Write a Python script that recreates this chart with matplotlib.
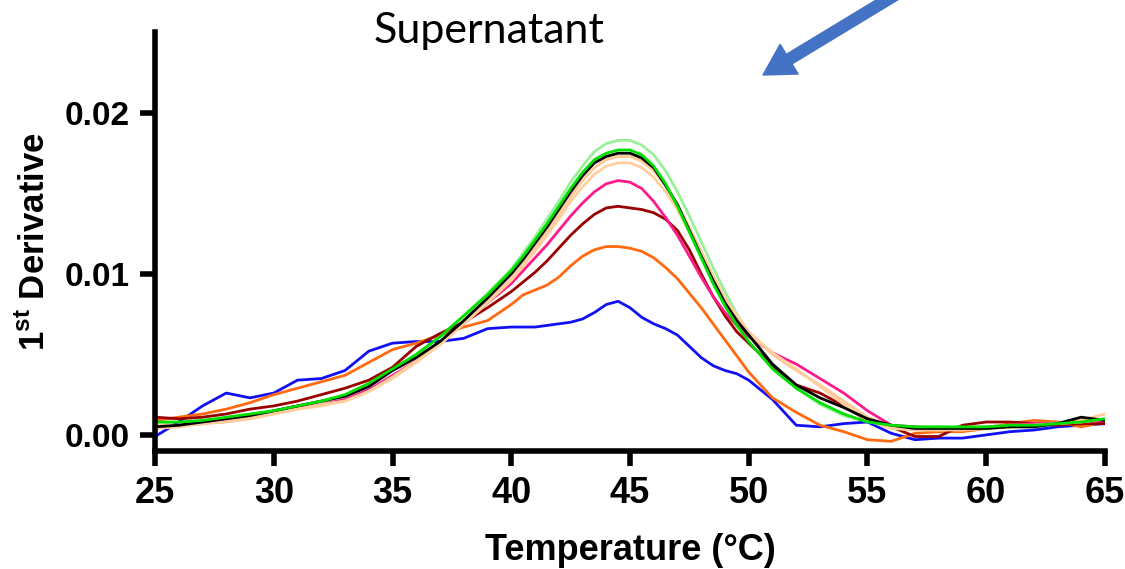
import matplotlib
matplotlib.use('Agg')
import matplotlib.pyplot as plt

# Temperature grid (deg C); finer sampling across the melt peak
temperature = [25, 26, 27, 28, 29, 30, 31, 32, 33, 34, 35, 36, 37, 38, 39, 40,
               40.5, 41, 41.5, 42, 42.5, 43, 43.5, 44, 44.5, 45, 45.5, 46, 46.5,
               47, 47.5, 48, 48.5, 49, 49.5, 50,
               51, 52, 53, 54, 55, 56, 57, 58, 59, 60, 61, 62, 63, 64, 65]

blue = [-0.0001, 0.0008, 0.0018, 0.0026, 0.0023, 0.0026, 0.0034, 0.0035, 0.0040, 0.0052,
        0.0057, 0.0058, 0.0058, 0.0060, 0.0066, 0.0067,
        0.0067, 0.0067, 0.0068, 0.0069, 0.0070, 0.0072, 0.0076, 0.0081, 0.0083, 0.0079,
        0.0073, 0.0069, 0.0066, 0.0062, 0.0055, 0.0048, 0.0043, 0.0040, 0.0038, 0.0034,
        0.0022, 0.0006, 0.0005, 0.0007, 0.0008, 0.0001, -0.0003, -0.0002, -0.0002, 0.0000,
        0.0002, 0.0003, 0.0005, 0.0006, 0.0007]

orange = [0.0009, 0.0011, 0.0013, 0.0016, 0.0020, 0.0025, 0.0029, 0.0033, 0.0037, 0.0045,
          0.0053, 0.0057, 0.0062, 0.0067, 0.0071, 0.0081,
          0.0087, 0.0090, 0.0093, 0.0098, 0.0105, 0.0111, 0.0115, 0.0117, 0.0117, 0.0116,
          0.0114, 0.0110, 0.0104, 0.0097, 0.0088, 0.0079, 0.0069, 0.0059, 0.0049, 0.0039,
          0.0023, 0.0014, 0.0006, 0.0002, -0.0003, -0.0004, 0.0001, 0.0002, 0.0002, 0.0004,
          0.0007, 0.0009, 0.0008, 0.0005, 0.0008]

dark_red = [0.0011, 0.0010, 0.0011, 0.0013, 0.0016, 0.0018, 0.0021, 0.0025, 0.0029, 0.0034,
            0.0042, 0.0055, 0.0063, 0.0070, 0.0079, 0.0089,
            0.0095, 0.0101, 0.0108, 0.0116, 0.0124, 0.0131, 0.0137, 0.0141, 0.0142, 0.0141,
            0.0140, 0.0138, 0.0134, 0.0127, 0.0115, 0.0100, 0.0086, 0.0074, 0.0064, 0.0057,
            0.0043, 0.0031, 0.0026, 0.0018, 0.0009, 0.0005, -0.0001, -0.0001, 0.0006, 0.0008,
            0.0008, 0.0007, 0.0006, 0.0007, 0.0007]

pink = [0.0005, 0.0006, 0.0007, 0.0009, 0.0011, 0.0014, 0.0017, 0.0019, 0.0022, 0.0028,
        0.0037, 0.0046, 0.0057, 0.0069, 0.0082, 0.0094,
        0.0102, 0.0110, 0.0118, 0.0127, 0.0136, 0.0144, 0.0151, 0.0156, 0.0158, 0.0157,
        0.0153, 0.0145, 0.0135, 0.0124, 0.0111, 0.0098, 0.0086, 0.0076, 0.0068, 0.0061,
        0.0051, 0.0044, 0.0035, 0.0026, 0.0015, 0.0006, 0.0005, 0.0004, 0.0004, 0.0005,
        0.0006, 0.0007, 0.0007, 0.0008, 0.0009]

peach_a = [0.0004, 0.0005, 0.0007, 0.0008, 0.0010, 0.0013, 0.0016, 0.0019, 0.0021, 0.0027,
           0.0036, 0.0046, 0.0057, 0.0070, 0.0083, 0.0097,
           0.0106, 0.0116, 0.0126, 0.0137, 0.0148, 0.0158, 0.0166, 0.0171, 0.0173, 0.0173,
           0.0170, 0.0164, 0.0155, 0.0143, 0.0129, 0.0114, 0.0099, 0.0085, 0.0073, 0.0063,
           0.0050, 0.0040, 0.0031, 0.0021, 0.0011, 0.0005, 0.0004, 0.0003, 0.0003, 0.0004,
           0.0005, 0.0006, 0.0007, 0.0009, 0.0013]

peach_b = [0.0006, 0.0006, 0.0007, 0.0009, 0.0011, 0.0013, 0.0016, 0.0018, 0.0021, 0.0027,
           0.0035, 0.0045, 0.0056, 0.0069, 0.0082, 0.0096,
           0.0105, 0.0114, 0.0124, 0.0134, 0.0145, 0.0154, 0.0162, 0.0167, 0.0169, 0.0169,
           0.0166, 0.0160, 0.0151, 0.0140, 0.0126, 0.0112, 0.0098, 0.0085, 0.0074, 0.0064,
           0.0051, 0.0041, 0.0030, 0.0019, 0.0009, 0.0004, 0.0003, 0.0003, 0.0004, 0.0005,
           0.0006, 0.0006, 0.0007, 0.0008, 0.0010]

black = [0.0005, 0.0006, 0.0008, 0.0010, 0.0012, 0.0015, 0.0018, 0.0021, 0.0024, 0.0030,
         0.0040, 0.0048, 0.0058, 0.0071, 0.0085, 0.0100,
         0.0109, 0.0119, 0.0129, 0.0140, 0.0151, 0.0161, 0.0169, 0.0173, 0.0175, 0.0175,
         0.0172, 0.0166, 0.0155, 0.0143, 0.0127, 0.0111, 0.0096, 0.0082, 0.0071, 0.0062,
         0.0044, 0.0031, 0.0023, 0.0017, 0.0010, 0.0006, 0.0004, 0.0004, 0.0004, 0.0004,
         0.0005, 0.0005, 0.0007, 0.0011, 0.0009]

green = [0.0008, 0.0008, 0.0009, 0.0011, 0.0013, 0.0015, 0.0018, 0.0021, 0.0025, 0.0032,
         0.0041, 0.0050, 0.0061, 0.0074, 0.0087, 0.0102,
         0.0111, 0.0121, 0.0131, 0.0142, 0.0153, 0.0163, 0.0171, 0.0175, 0.0177, 0.0177,
         0.0174, 0.0167, 0.0156, 0.0142, 0.0126, 0.0110, 0.0094, 0.0080, 0.0068, 0.0058,
         0.0041, 0.0029, 0.0020, 0.0013, 0.0008, 0.0006, 0.0005, 0.0005, 0.0005, 0.0005,
         0.0006, 0.0006, 0.0007, 0.0008, 0.0010]

light_green = [0.0006, 0.0007, 0.0008, 0.0010, 0.0012, 0.0014, 0.0017, 0.0020, 0.0024, 0.0031,
               0.0040, 0.0050, 0.0061, 0.0074, 0.0088, 0.0103,
               0.0113, 0.0123, 0.0134, 0.0145, 0.0157, 0.0167, 0.0176, 0.0181, 0.0183, 0.0183,
               0.0180, 0.0174, 0.0164, 0.0151, 0.0136, 0.0120, 0.0104, 0.0089, 0.0075, 0.0063,
               0.0043, 0.0029, 0.0019, 0.0012, 0.0008, 0.0006, 0.0005, 0.0005, 0.0004, 0.0004,
               0.0005, 0.0005, 0.0006, 0.0006, 0.0007]

series = [
    (light_green, '#9AF09A'),
    (blue, '#1010F5'),
    (orange, '#FF6A10'),
    (dark_red, '#990000'),
    (pink, '#FF1A8C'),
    (peach_a, '#FFC896'),
    (peach_b, '#FFCFA0'),
    (black, '#000000'),
    (green, '#00E000'),
]

x_ticks = [25, 30, 35, 40, 45, 50, 55, 60, 65]
y_ticks = [0.00, 0.01, 0.02]
y_tick_labels = ['0.00', '0.01', '0.02']

plt.rcParams['mathtext.fontset'] = 'custom'
plt.rcParams['mathtext.rm'] = 'Liberation Sans:bold'

fig = plt.figure(figsize=(11.25, 5.69), dpi=100)
ax = fig.add_axes([0.1378, 0.2074, 0.8444, 0.7355])

for values, color in series:
    ax.plot(temperature, values, color=color, linewidth=2.0,
            solid_capstyle='round', solid_joinstyle='round')

ax.set_xlim(25, 65)
ax.set_ylim(-0.001, 0.025)
for side in ('top', 'right'):
    ax.spines[side].set_visible(False)
for side in ('left', 'bottom'):
    ax.spines[side].set_linewidth(4)

ax.set_xticks(x_ticks)
ax.set_xticklabels([str(t) for t in x_ticks], family=['Liberation Sans Narrow', 'Liberation Sans'],
                   fontweight='bold', fontsize=26)
ax.set_yticks(y_ticks)
ax.set_yticklabels(y_tick_labels, family='Liberation Sans', fontweight='bold', fontsize=24)
ax.tick_params(axis='both', length=11, width=4, pad=7, direction='out')

ax.set_xlabel('Temperature (\u00b0C)', family='Liberation Sans', fontweight='bold', fontsize=26)
ax.xaxis.set_label_coords(0.5, -0.195)
ax.set_ylabel(r'1$^{\mathrm{st}}$ Derivative', family='Liberation Sans', fontweight='bold', fontsize=25)
ax.yaxis.set_label_coords(-0.108, 0.5)

fig.text(0.435, 0.945, 'Supernatant', family='Lato', fontsize=31, ha='center', va='center')

ax.annotate('', xy=(763, 494), xycoords='figure pixels', xytext=(905, 580),
            textcoords='figure pixels', annotation_clip=False,
            arrowprops=dict(width=8, headwidth=25, headlength=22, color='#4472C4', shrink=0))

fig.savefig('out.png', dpi=100)
